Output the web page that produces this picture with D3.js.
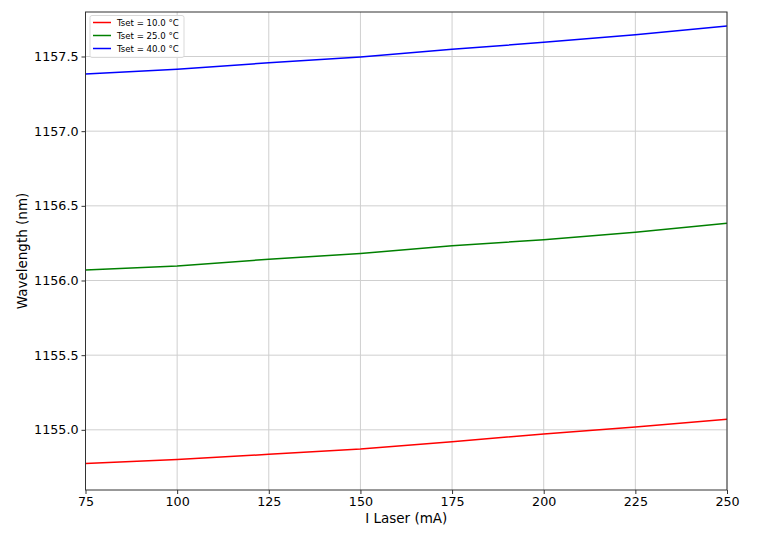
<!DOCTYPE html>
<html><head><meta charset="utf-8">
<script src="https://cdn.jsdelivr.net/npm/d3@7"></script>
<style>body{margin:0;background:#fff}svg{display:block}text{font-family:"DejaVu Sans",sans-serif}</style>
</head><body><svg id="c" width="757" height="536"></svg>
<script>
const current = [75, 100, 125, 150, 175, 200, 225, 250];
const seriesNames = ["Tset = 10.0 °C", "Tset = 25.0 °C", "Tset = 40.0 °C"];
const colors = ["red", "green", "blue"];
const t10 = [1154.774, 1154.802, 1154.836, 1154.871, 1154.920, 1154.972, 1155.019, 1155.070];
const t25 = [1156.070, 1156.097, 1156.142, 1156.181, 1156.233, 1156.273, 1156.323, 1156.383];
const t40 = [1157.383, 1157.414, 1157.458, 1157.497, 1157.548, 1157.595, 1157.646, 1157.705];
const xTicks = [75, 100, 125, 150, 175, 200, 225, 250];
const yTicks = [1155.0, 1155.5, 1156.0, 1156.5, 1157.0, 1157.5];

const series = [t10, t25, t40];
const svg = d3.select("#c");
const L = 85.5, R = 727, T = 12, B = 490;
const x = d3.scaleLinear().domain([75, 250]).range([L, R]);
const y = d3.scaleLinear().domain([1154.597, 1157.798]).range([B, T]);

// grid
const g = svg.append("g");
g.selectAll(".gx").data(xTicks).enter().append("line")
  .attr("x1", d => x(d)).attr("x2", d => x(d)).attr("y1", T).attr("y2", B)
  .attr("stroke", "#cfcfcf").attr("stroke-width", 1);
g.selectAll(".gy").data(yTicks).enter().append("line")
  .attr("x1", L).attr("x2", R).attr("y1", d => y(d)).attr("y2", d => y(d))
  .attr("stroke", "#cfcfcf").attr("stroke-width", 1);

// lines
const line = d3.line().x((d, i) => x(current[i])).y(d => y(d));
series.forEach((s, k) => {
  svg.append("path").datum(s).attr("d", line).attr("fill", "none")
    .attr("stroke", colors[k]).attr("stroke-width", 1.5);
});

// axes
const xAxis = d3.axisBottom(x).tickValues(xTicks).tickSize(4).tickPadding(3).tickFormat(d3.format("d"));
const yAxis = d3.axisLeft(y).tickValues(yTicks).tickSize(4).tickPadding(3).tickFormat(d3.format(".1f"));
const gx = svg.append("g").attr("transform", `translate(0,${B})`).call(xAxis);
const gy = svg.append("g").attr("transform", `translate(${L},0)`).call(yAxis);
[gx, gy].forEach(a => {
  a.select(".domain").remove();
  a.selectAll("text").attr("font-size", 12.7).attr("fill", "#000").attr("font-family", "DejaVu Sans");
  a.selectAll("line").attr("stroke", "#333");
});
// frame
svg.append("rect").attr("x", L).attr("y", T).attr("width", R - L).attr("height", B - T)
  .attr("fill", "none").attr("stroke", "#333").attr("stroke-width", 1);

// labels
svg.append("text").attr("x", (L + R) / 2).attr("y", 523).attr("text-anchor", "middle")
  .attr("font-size", 13.5).text("I Laser (mA)");
svg.append("text").attr("transform", `translate(27,${(T + B) / 2}) rotate(-90)`)
  .attr("text-anchor", "middle").attr("font-size", 13.5).text("Wavelength (nm)");

// legend
const lg = svg.append("g");
lg.append("rect").attr("x", 90).attr("y", 15.5).attr("width", 94).attr("height", 42)
  .attr("rx", 2).attr("fill", "#fff").attr("fill-opacity", 0.85).attr("stroke", "#d9d9d9").attr("stroke-width", 1);
seriesNames.forEach((n, k) => {
  const yy = 22.5 + k * 13;
  lg.append("line").attr("x1", 93).attr("x2", 111).attr("y1", yy).attr("y2", yy)
    .attr("stroke", colors[k]).attr("stroke-width", 1.5);
  lg.append("text").attr("x", 117).attr("y", yy + 3).attr("font-size", 8.6).text(n);
});
</script></body></html>
